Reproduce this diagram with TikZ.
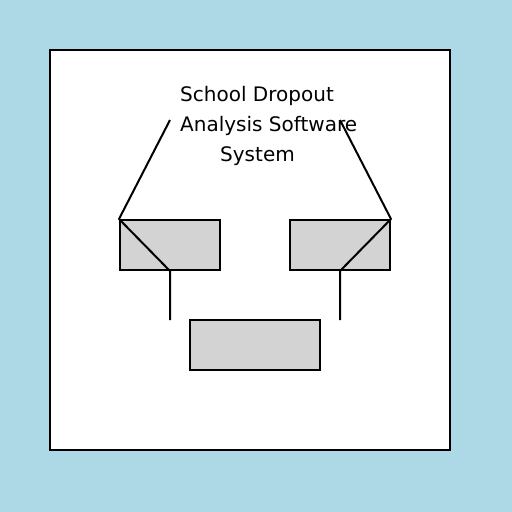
\documentclass[tikz,border=0pt]{standalone}
\usepackage{fontspec}
\setmainfont{DejaVu Sans}
\usepackage{xcolor}
\usepackage{tikz}
\definecolor{sky}{HTML}{ADD8E6}
\definecolor{panel}{HTML}{FFFFFF}
\definecolor{boxgray}{HTML}{D3D3D3}
\definecolor{ink}{HTML}{000000}
\tikzset{
  frame/.style={draw=ink, line width=1.5pt, fill=panel},
  module/.style={draw=ink, line width=2pt, fill=boxgray, inner sep=0pt, minimum height=50pt},
  link/.style={draw=ink, line width=2pt, line join=round},
  title/.style={text=ink, inner sep=0pt, anchor=base west, font=\fontsize{20}{24}\selectfont}
}
\begin{document}
\begin{tikzpicture}[x=1pt, y=-1pt]
  \fill[sky] (0,0) rectangle (512,512);
  \useasboundingbox (0,0) rectangle (512,512);
  \draw[frame] (50,50) rectangle (450,450);

  % Title lines
  \node[title] (t1) at (180,101) {School Dropout};
  \node[title] (t2) at (180,131) {Analysis Software};
  \node[title] (t3) at (220,161) {System};

  % Modules
  \node[module, minimum width=100pt] (left) at (170,245) {};
  \node[module, minimum width=100pt] (right) at (340,245) {};
  \node[module, minimum width=130pt] (bottom) at (255,345) {};

  \coordinate (lt) at (170,120);
  \coordinate (rt) at (340,120);
  \coordinate (ld) at (170,320);
  \coordinate (rd) at (340,320);

  % Connectors
  \draw[link] (lt) -- (left.north west) -- (left.south) -- (ld);
  \draw[link] (rt) -- (right.north east) -- (right.south) -- (rd);
\end{tikzpicture}
\end{document}
